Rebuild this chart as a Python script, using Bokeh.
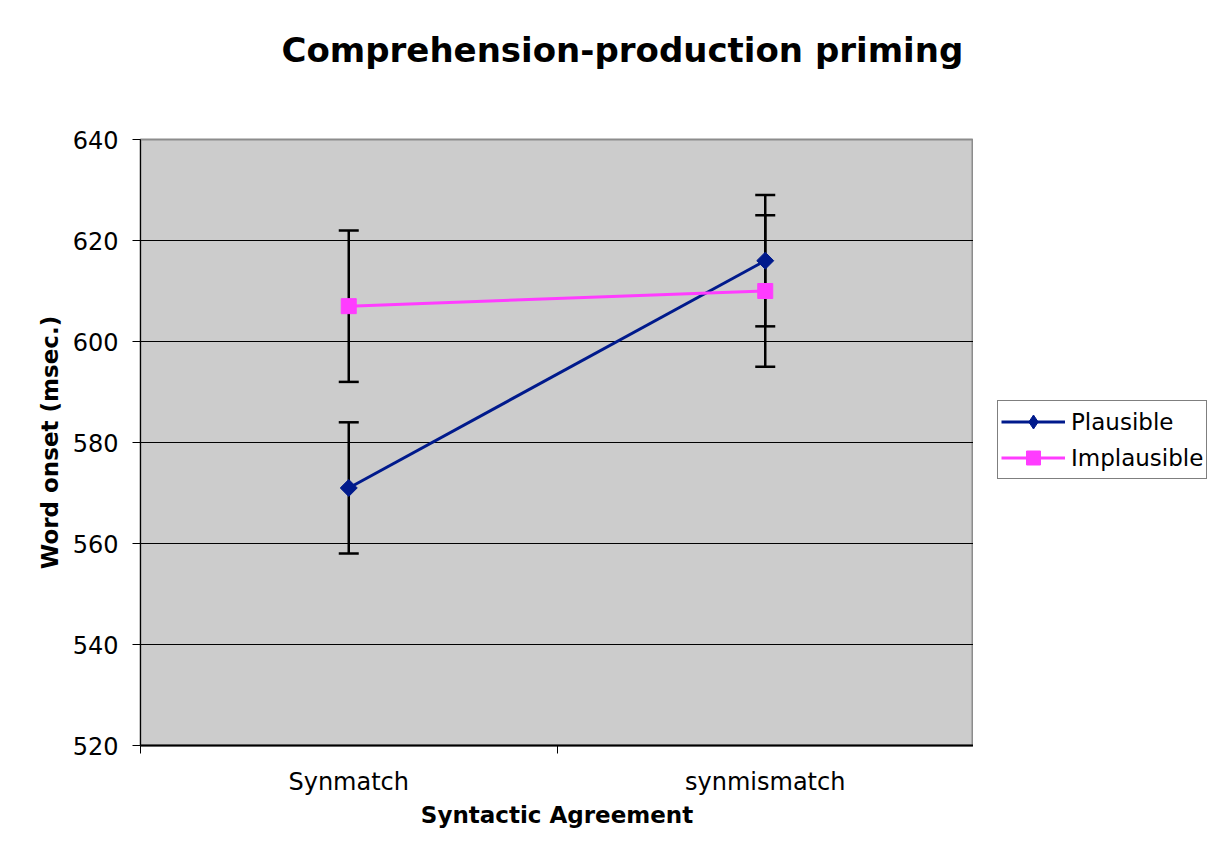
import math
from bokeh.plotting import figure
from bokeh.layouts import row
from bokeh.models import FixedTicker, Legend, LegendItem, Title
from bokeh.embed import file_html
from bokeh.resources import INLINE

categories = ["Synmatch", "synmismatch"]
plausible = [571, 616]
plausible_err = [13, 13]
implausible = [607, 610]
implausible_err = [15, 15]
y_ticks = [520, 540, 560, 580, 600, 620, 640]

FONT = "DejaVu Sans"
navy = "#001A8C"
pink = "#FF3CFF"
xs = [i + 0.5 for i in range(len(categories))]

p = figure(width=973, height=857, output_backend="svg", toolbar_location=None,
           x_range=(0, len(categories)), y_range=(520, 640),
           min_border_left=140, min_border_right=0, min_border_top=139, min_border_bottom=112)
p.background_fill_color = "#CCCCCC"
p.border_fill_color = "white"
p.outline_line_color = "#8C8C8C"
p.outline_line_width = 2
p.title.visible = False

spacer = Title(text="\u00a0", text_font=FONT, text_font_size="2px", standoff=66)
p.add_layout(spacer, "above")
t = Title(text="Comprehension-production priming", align="left",
          text_font=FONT, text_font_size="34px", text_font_style="bold", text_color="black",
          offset=141, standoff=0)
p.add_layout(t, "above")

# x axis
p.xaxis.ticker = FixedTicker(ticks=xs, minor_ticks=list(range(len(categories) + 1)))
p.xaxis.major_label_overrides = {x: c for x, c in zip(xs, categories)}
p.xaxis.major_tick_out = 0
p.xaxis.major_tick_in = 0
p.xaxis.minor_tick_out = 8
p.xaxis.minor_tick_in = 0
p.xaxis.minor_tick_line_color = "black"
p.xaxis.axis_line_color = "black"
p.xaxis.axis_line_width = 2
p.xaxis.axis_label = "Syntactic Agreement"
p.xaxis.axis_label_text_font = FONT
p.xaxis.axis_label_text_font_size = "23px"
p.xaxis.axis_label_text_font_style = "bold"
p.xaxis.axis_label_text_color = "black"
p.xaxis.axis_label_standoff = 3
p.xaxis.major_label_text_font = FONT
p.xaxis.major_label_text_font_size = "24px"
p.xaxis.major_label_text_color = "black"
p.xaxis.major_label_standoff = 14

# y axis
p.yaxis.ticker = FixedTicker(ticks=y_ticks, minor_ticks=[])
p.yaxis.major_tick_out = 8
p.yaxis.major_tick_in = 0
p.yaxis.major_tick_line_color = "black"
p.yaxis.axis_line_color = "black"
p.yaxis.axis_line_width = 1
p.yaxis.axis_label = "Word onset (msec.)"
p.yaxis.axis_label_text_font = FONT
p.yaxis.axis_label_text_font_size = "23px"
p.yaxis.axis_label_text_font_style = "bold"
p.yaxis.axis_label_text_color = "black"
p.yaxis.axis_label_standoff = 7
p.yaxis.major_label_text_font = FONT
p.yaxis.major_label_text_font_size = "24px"
p.yaxis.major_label_text_color = "black"
p.yaxis.major_label_standoff = 14

p.xgrid.visible = False
p.ygrid.grid_line_color = "black"
p.ygrid.grid_line_width = 1
p.ygrid.grid_line_alpha = 1.0

# error bars
for vals, errs in ((implausible, implausible_err), (plausible, plausible_err)):
    up = [v + e for v, e in zip(vals, errs)]
    lo = [v - e for v, e in zip(vals, errs)]
    p.segment(x0=xs, y0=lo, x1=xs, y1=up, line_color="black", line_width=2.5)
    p.scatter(x=xs + xs, y=up + lo, marker="dash", size=20, line_color="black", line_width=2.5)

p.line(xs, plausible, line_color=navy, line_width=3)
p.scatter(xs, plausible, marker="square", size=12, angle=math.pi / 4,
          fill_color=navy, line_color=navy)
p.line(xs, implausible, line_color=pink, line_width=3)
p.scatter(xs, implausible, marker="square", size=15, fill_color=pink, line_color=pink)

# legend panel (separate canvas to the right of the chart)
q = figure(width=242, height=857, output_backend="svg", toolbar_location=None,
           x_range=(0, len(categories)), y_range=(520, 640),
           min_border=0, min_border_left=0, min_border_right=0, min_border_top=0, min_border_bottom=0)
q.axis.visible = False
q.grid.visible = False
q.outline_line_color = None
q.background_fill_color = "white"
q.border_fill_color = "white"
k1l = q.line(xs, plausible, line_color=navy, line_width=3, visible=False)
k1m = q.scatter(xs, plausible, marker="diamond", size=16, fill_color=navy, line_color=navy, visible=False)
k2l = q.line(xs, implausible, line_color=pink, line_width=3, visible=False)
k2m = q.scatter(xs, implausible, marker="square", size=15, fill_color=pink, line_color=pink, visible=False)

legend = Legend(items=[LegendItem(label="Plausible", renderers=[k1l, k1m]),
                       LegendItem(label="Implausible", renderers=[k2l, k2m])],
                location=(24, 266), orientation="vertical",
                border_line_color="black", border_line_width=1,
                background_fill_color="white", background_fill_alpha=1.0,
                label_text_font=FONT, label_text_font_size="23px", label_text_color="black",
                glyph_width=64, glyph_height=35, label_height=35, label_standoff=6,
                padding=3, spacing=1, margin=0)
q.add_layout(legend, "center")

open("out.html", "w").write(file_html(row(p, q), INLINE))
